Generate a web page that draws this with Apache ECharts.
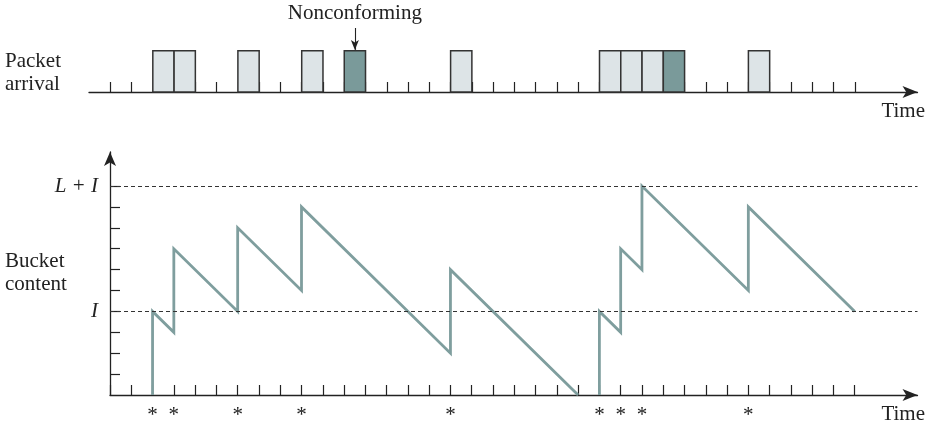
<!DOCTYPE html>
<html>
<head>
<meta charset="utf-8">
<script src="https://cdn.jsdelivr.net/npm/echarts@6/dist/echarts.min.js"></script>
<style>
html,body{margin:0;padding:0;background:#fff;}
#main{width:932px;height:426px;}
</style>
</head>
<body>
<div id="main"></div>
<script>
// ---- data ----
const packetTimes = [2, 3, 6, 9, 11, 16, 23, 24, 25, 26, 30];
const packetConforming = [true, true, true, true, false, true, true, true, true, false, true];
const timeTicks = [0,1,2,3,4,5,6,7,8,9,10,11,12,13,14,15,16,17,18,19,20,21,22,23,24,25,26,27,28,29,30,31,32,33,34,35];
const contentTicks = [1,2,3,4,5,6,7,8,9,10];
const bucketTime    = [2, 2, 3, 3, 6, 6, 9, 9, 16, 16, 22, null, 23, 23, 24, 24, 25, 25, 30, 30, 35];
const bucketContent = [0, 4, 3, 7, 4, 8, 5, 9, 2, 6, 0, null, 0, 4, 3, 7, 6, 10, 5, 9, 4];
const conformTimes = [2, 3, 6, 9, 16, 23, 24, 25, 30];
const levelI = 4;
const levelLI = 10;
const levelLabels = {4: 'I', 10: 'L + I'};

const SERIF = '"Liberation Serif", "DejaVu Serif", serif';
const LINE = '#7f9e9e';
const DARK = '#7a9a9a';
const LIGHT = '#dde4e7';
const INK = '#222';

const bucketData = bucketTime.map((t, i) => t === null ? [null, null] : [t, bucketContent[i]]);
const nonconf = packetTimes.filter((t, i) => !packetConforming[i]);

const chart = echarts.init(document.getElementById('main'), null, {renderer: 'canvas'});
chart.setOption({
  animation: false,
  backgroundColor: '#fff',
  grid: [
    {left: 89, right: 14.5, top: 0, height: 92, containLabel: false},
    {left: 110, right: 14.5, top: 152, bottom: 31, containLabel: false}
  ],
  xAxis: [
    {
      gridIndex: 0, type: 'value', min: -1, max: 37.95,
      axisLine: {show: true, lineStyle: {color: INK, width: 1.3}, symbol: ['none', 'arrow'], symbolSize: [9, 15]},
      axisTick: {show: true, inside: true, length: 10, lineStyle: {color: INK, width: 1.2}, customValues: timeTicks},
      axisLabel: {show: false},
      splitLine: {show: false}
    },
    {
      gridIndex: 1, type: 'value', min: 0, max: 37.95,
      axisLine: {show: true, onZero: false, lineStyle: {color: INK, width: 1.3}, symbol: ['none', 'arrow'], symbolSize: [9, 15]},
      axisTick: {show: true, inside: true, length: 10, lineStyle: {color: INK, width: 1.2}, customValues: timeTicks},
      axisLabel: {
        show: true, customValues: conformTimes, formatter: () => '*',
        margin: 10, color: INK, fontFamily: SERIF, fontSize: 21
      },
      splitLine: {show: false}
    }
  ],
  yAxis: [
    {gridIndex: 0, type: 'value', min: 0, max: 2.228, show: false},
    {
      gridIndex: 1, type: 'value', min: 0, max: 11.63,
      axisLine: {show: true, onZero: false, lineStyle: {color: INK, width: 1.3}, symbol: ['none', 'arrow'], symbolSize: [9, 14]},
      axisTick: {show: true, inside: true, length: 10, lineStyle: {color: INK, width: 1.2}, customValues: contentTicks},
      axisLabel: {
        show: true, customValues: [levelI, levelLI], formatter: v => levelLabels[v],
        margin: 12, color: INK, fontFamily: SERIF, fontSize: 21, fontStyle: 'italic'
      },
      splitLine: {show: false}
    }
  ],
  series: [
    {
      type: 'custom', xAxisIndex: 0, yAxisIndex: 0,
      data: packetTimes.map((t, i) => [t, packetConforming[i] ? 1 : 0]),
      renderItem: function (params, api) {
        const t = api.value(0);
        const p0 = api.coord([t, 0]);
        const p1 = api.coord([t + 1, 1]);
        return {
          type: 'rect',
          shape: {x: p0[0], y: p1[1], width: p1[0] - p0[0], height: p0[1] - p1[1]},
          style: {fill: api.value(1) ? LIGHT : DARK, stroke: '#333', lineWidth: 1.5}
        };
      },
      markLine: {
        silent: true,
        symbol: ['none', 'arrow'],
        symbolSize: [6, 10],
        lineStyle: {color: INK, width: 1.1, type: 'solid'},
        label: {show: true, position: 'start', distance: 4, formatter: 'Nonconforming', color: INK, fontFamily: SERIF, fontSize: 21},
        data: [[{coord: [nonconf[0] + 0.5, 1.55]}, {coord: [nonconf[0] + 0.5, 1.02]}]]
      },
      z: 5
    },
    {
      type: 'line', xAxisIndex: 1, yAxisIndex: 1,
      data: bucketData,
      connectNulls: false,
      showSymbol: false,
      symbol: 'none',
      lineStyle: {color: LINE, width: 2.8, join: 'miter'},
      markLine: {
        silent: true,
        symbol: 'none',
        lineStyle: {color: '#333', width: 1, type: [4, 3]},
        label: {show: false},
        data: [{yAxis: levelI}, {yAxis: levelLI}]
      },
      z: 3
    }
  ],
  graphic: [
    {type: 'text', left: 5, top: 50, style: {text: 'Packet\narrival', font: '21px ' + SERIF, fill: INK, lineHeight: 23}},
    {type: 'text', left: 5, top: 250, style: {text: 'Bucket\ncontent', font: '21px ' + SERIF, fill: INK, lineHeight: 23}},
    {type: 'text', right: 7, top: 101, style: {text: 'Time', font: '21px ' + SERIF, fill: INK}},
    {type: 'text', right: 7, top: 404, style: {text: 'Time', font: '21px ' + SERIF, fill: INK}}
  ]
});
</script>
</body>
</html>
